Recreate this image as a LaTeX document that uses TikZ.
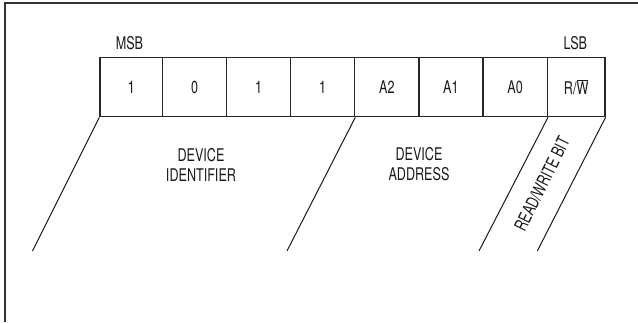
\documentclass[tikz,border=0pt]{standalone}
\usepackage{fontspec}
\newfontfamily\condfont{TeX Gyre Heros}[FakeStretch=0.72]
\begin{document}
\begin{tikzpicture}[x=1pt,y=-1pt,
  lbl/.style={font=\condfont\fontsize{17.5}{20}\selectfont, text=black!90, inner sep=0pt},
  cell/.style={draw=black!85, line width=1.3pt, minimum height=59pt, inner sep=0pt, anchor=north west, font=\condfont\fontsize{17.5}{20}\selectfont, text=black!90},
  frameline/.style={draw=black!80, line width=2pt},
  slant/.style={draw=black!90, line width=1pt}]
\useasboundingbox (0,0) rectangle (638,322);
% frame
\draw[frameline] (4.7,322) -- (4.7,3.3) -- (638,3.3);
% cells
\node[cell, minimum width=62.7pt] (c1) at (99.3,57) {1};
\node[cell, minimum width=64pt] (c2) at (162,57) {0};
\node[cell, minimum width=64pt] (c3) at (226,57) {1};
\node[cell, minimum width=64pt] (c4) at (290,57) {1};
\node[cell, minimum width=64.3pt] (c5) at (354,57) {A2};
\node[cell, minimum width=64pt] (c6) at (418.3,57) {A1};
\node[cell, minimum width=64.4pt] (c7) at (482.3,57) {A0};
\node[cell, minimum width=57.6pt] (c8) at (546.7,57) {R/$\overline{\mbox{W}}$};
% labels
\node[lbl] (msb) at (129.5,43.3) {MSB};
\node[lbl] (lsb) at (575.3,43.3) {LSB};
\node[lbl, align=center] (devid) at (201,164.5) {DEVICE\\IDENTIFIER};
\node[lbl, align=center] (devad) at (419,164.5) {DEVICE\\ADDRESS};
\node[lbl, rotate=63.6] (rw) at (542,184) {READ/WRITE BIT};
% slanted lines
\coordinate (e1) at (32.5,251);
\coordinate (e2) at (287,251);
\coordinate (e3) at (479,251);
\coordinate (e4) at (537.3,251);
\draw[slant] (c1.south west) -- (e1);
\draw[slant] (c4.south east) -- (e2);
\draw[slant] (c7.south east) -- (e3);
\draw[slant] (c8.south east) -- (e4);
\end{tikzpicture}
\end{document}
